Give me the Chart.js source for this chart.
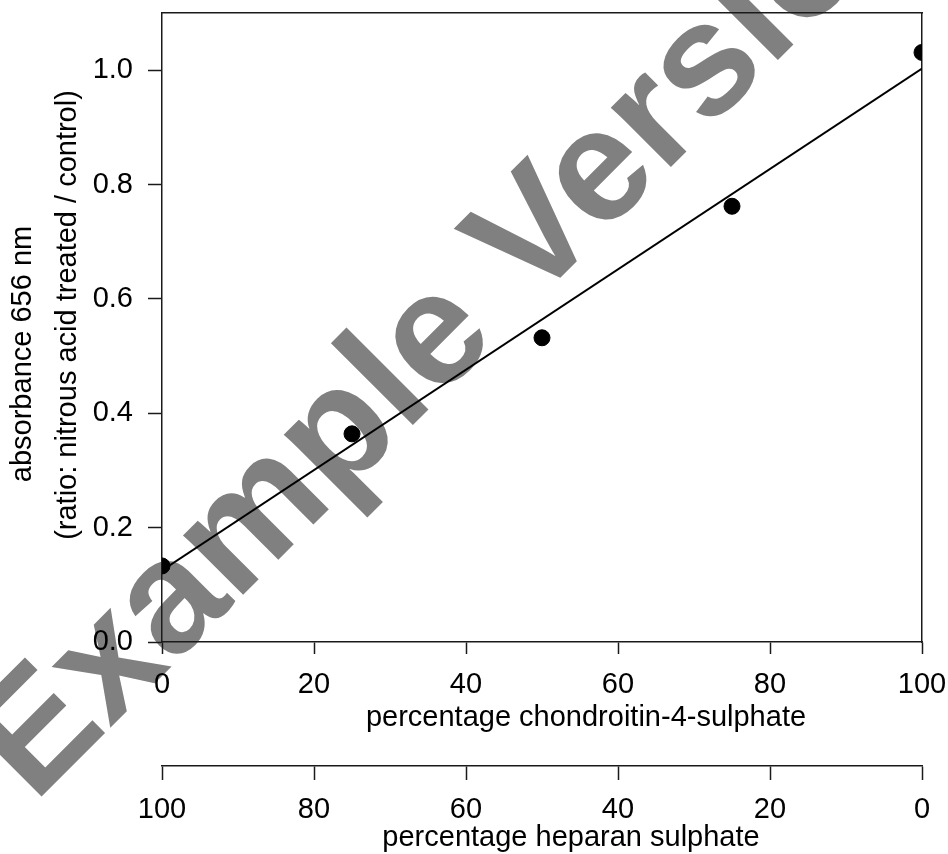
<!DOCTYPE html>
<html><head><meta charset="utf-8">
<script src="https://cdn.jsdelivr.net/npm/chart.js@4/dist/chart.umd.min.js"></script>
<style>html,body{margin:0;padding:0;background:#fff}#wrap{width:948px;height:854px;position:relative}</style>
</head><body><div id="wrap"><canvas id="c" width="948" height="854"></canvas></div>
<script>
// ---- data ----
const c4sPercent = [0, 25, 50, 75, 100];
const absorbanceRatio = [0.133, 0.364, 0.532, 0.762, 1.031];
const fitC4s = [0, 100];
const fitRatio = [0.125, 1.003];
const xTickValues = [0, 20, 40, 60, 80, 100];
const hsTickValues = [100, 80, 60, 40, 20, 0];
const yTickValues = [0.0, 0.2, 0.4, 0.6, 0.8, 1.0];
const xTitle = 'percentage chondroitin-4-sulphate';
const x2Title = 'percentage heparan sulphate';
const yTitle = ['absorbance 656 nm', '(ratio: nitrous acid treated / control)'];
const watermarkText = 'Example Version';

const FONT = "Arial, 'Liberation Sans', sans-serif";
const AX = '#1a1a1a';

const noPad = s => { s.paddingTop = 0; s.paddingBottom = 0; s.paddingLeft = 0; s.paddingRight = 0; };

const bgAndWatermark = {
  id: 'bgwm',
  beforeDraw(chart) {
    const ctx = chart.ctx;
    ctx.save();
    ctx.fillStyle = '#fff';
    ctx.fillRect(0, 0, chart.width, chart.height);
    ctx.translate(34, 804);
    ctx.rotate(-Math.PI / 4);
    ctx.font = "bold 160px " + FONT;
    ctx.fillStyle = '#808080';
    ctx.textAlign = 'left';
    ctx.textBaseline = 'alphabetic';
    ctx.fillText(watermarkText, 0, 0);
    ctx.restore();
  }
};

const axisTitles = {
  id: 'axisTitles',
  afterDraw(chart) {
    const ctx = chart.ctx;
    ctx.save();
    ctx.fillStyle = '#000';
    ctx.font = "29px " + FONT;
    ctx.textAlign = 'center';
    ctx.textBaseline = 'alphabetic';
    ctx.fillText(xTitle, 586, 726);
    ctx.fillText(x2Title, 571, 846);
    ctx.textBaseline = 'middle';
    ctx.save();
    ctx.translate(22.5, 354);
    ctx.rotate(-Math.PI / 2);
    ctx.fillText(yTitle[0], 0, 0);
    ctx.restore();
    ctx.save();
    ctx.translate(67.5, 315);
    ctx.rotate(-Math.PI / 2);
    ctx.fillText(yTitle[1], 0, 0);
    ctx.restore();
    ctx.restore();
  }
};

const pts = c4sPercent.map((x, i) => ({x, y: absorbanceRatio[i]}));
const fit = fitC4s.map((x, i) => ({x, y: fitRatio[i]}));

new Chart(document.getElementById('c'), {
  type: 'scatter',
  data: {
    datasets: [
      {type: 'line', data: fit, borderColor: '#000', borderWidth: 2, pointRadius: 0, fill: false, xAxisID: 'x', yAxisID: 'y', order: 2},
      {type: 'scatter', data: pts, backgroundColor: '#000', borderColor: '#000', pointRadius: 8, pointHoverRadius: 8, xAxisID: 'x', yAxisID: 'y', order: 1}
    ]
  },
  options: {
    responsive: false,
    animation: false,
    devicePixelRatio: 1,
    layout: {padding: {top: 13, right: 26, left: 0, bottom: 0}},
    plugins: {legend: {display: false}, tooltip: {enabled: false}},
    scales: {
      x: {
        type: 'linear', position: 'bottom', min: 0, max: 100, weight: 0,
        afterBuildTicks: s => { s.ticks = xTickValues.map(v => ({value: v})); },
        afterFit: s => { s.height = 124; noPad(s); },
        ticks: {font: {family: FONT, size: 29}, color: '#000', padding: 14, maxRotation: 0, autoSkip: false},
        grid: {drawOnChartArea: false, drawTicks: true, tickLength: 12, tickWidth: 1.5, tickColor: AX},
        border: {display: true, color: AX, width: 1.5},
        title: {display: false}
      },
      x2: {
        type: 'linear', position: 'bottom', min: 0, max: 100, reverse: true, weight: 1,
        afterBuildTicks: s => { s.ticks = hsTickValues.map(v => ({value: v})); },
        afterFit: s => { s.height = 88; noPad(s); },
        ticks: {font: {family: FONT, size: 29}, color: '#000', padding: 13, maxRotation: 0, autoSkip: false},
        grid: {drawOnChartArea: false, drawTicks: true, tickLength: 14, tickWidth: 1.5, tickColor: AX},
        border: {display: true, color: AX, width: 1.5},
        title: {display: false}
      },
      y: {
        type: 'linear', position: 'left', min: 0, max: 1.1,
        afterBuildTicks: s => { s.ticks = yTickValues.map(v => ({value: v})); },
        afterFit: s => { s.width = 162; noPad(s); },
        ticks: {font: {family: FONT, size: 29}, color: '#000', padding: 15, callback: v => Number(v).toFixed(1)},
        grid: {drawOnChartArea: false, drawTicks: true, tickLength: 14, tickWidth: 1.5, tickColor: AX},
        border: {display: true, color: AX, width: 1.5},
        title: {display: false}
      },
      xTop: {
        type: 'linear', position: 'top', min: 0, max: 100,
        afterFit: s => { s.height = 0; noPad(s); },
        ticks: {display: false},
        grid: {drawOnChartArea: false, drawTicks: false},
        border: {display: true, color: AX, width: 1.5}
      },
      yRight: {
        type: 'linear', position: 'right', min: 0, max: 1.1,
        afterFit: s => { s.width = 0; noPad(s); },
        ticks: {display: false},
        grid: {drawOnChartArea: false, drawTicks: false},
        border: {display: true, color: AX, width: 1.5}
      }
    }
  },
  plugins: [bgAndWatermark, axisTitles]
});
</script>
</body></html>
